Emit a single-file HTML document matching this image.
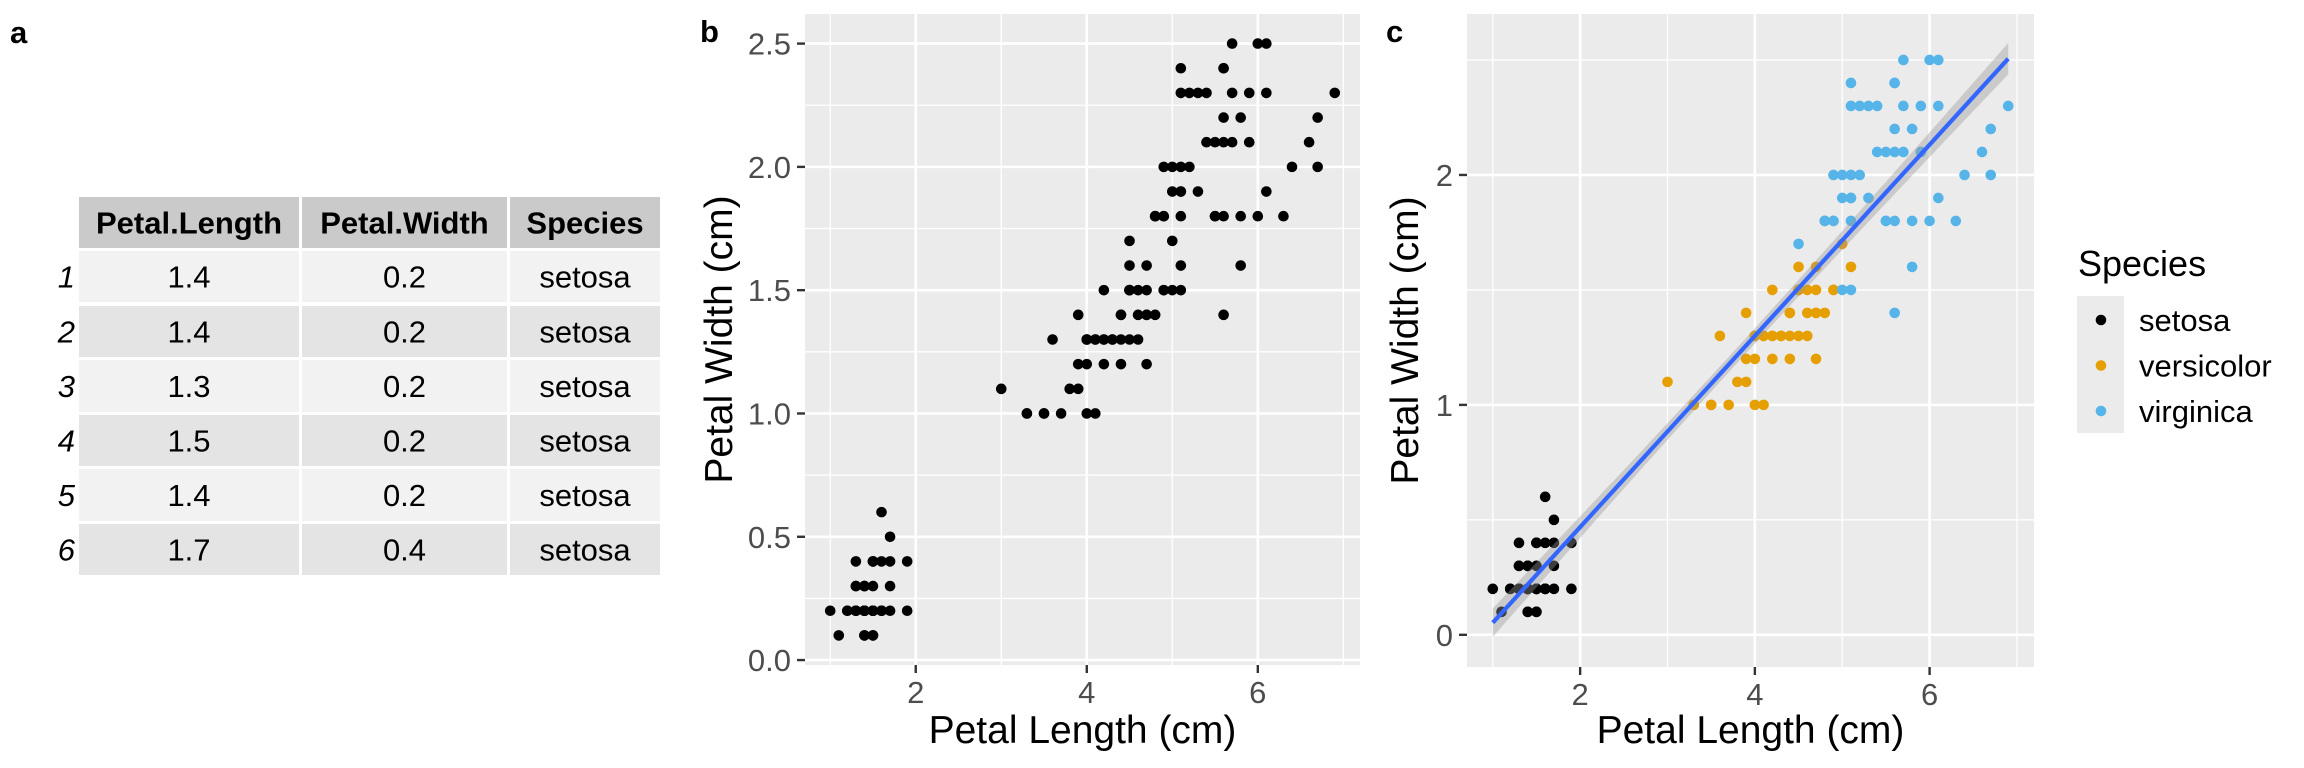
<!DOCTYPE html>
<html><head><meta charset="utf-8">
<style>
html,body{margin:0;padding:0;background:#fff;}
body{width:2304px;height:768px;overflow:hidden;position:relative;font-family:"Liberation Sans",sans-serif;}
svg{position:absolute;left:0;top:0;}
</style></head>
<body>
<svg id="fig" width="2304" height="768" xmlns="http://www.w3.org/2000/svg" font-family="Liberation Sans, sans-serif"></svg>
<script>
const tableHeaders = ["Petal.Length","Petal.Width","Species"];
const tableRowIds = ["1","2","3","4","5","6"];
const tableCol1 = ["1.4","1.4","1.3","1.5","1.4","1.7"];
const tableCol2 = ["0.2","0.2","0.2","0.2","0.2","0.4"];
const tableCol3 = ["setosa","setosa","setosa","setosa","setosa","setosa"];

const speciesNames = ["setosa","versicolor","virginica"];
const setosaLength = [1.4,1.4,1.3,1.5,1.4,1.7,1.4,1.5,1.4,1.5,1.5,1.6,1.4,1.1,1.2,1.5,1.3,1.4,1.7,1.5,1.7,1.5,1.0,1.7,1.9,1.6,1.6,1.5,1.4,1.6,1.6,1.5,1.5,1.4,1.5,1.2,1.3,1.4,1.3,1.5,1.3,1.3,1.3,1.6,1.9,1.4,1.6,1.4,1.5,1.4];
const setosaWidth = [0.2,0.2,0.2,0.2,0.2,0.4,0.3,0.2,0.2,0.1,0.2,0.2,0.1,0.1,0.2,0.4,0.4,0.3,0.3,0.3,0.2,0.4,0.2,0.5,0.2,0.2,0.4,0.2,0.2,0.2,0.2,0.4,0.1,0.2,0.2,0.2,0.2,0.1,0.2,0.2,0.3,0.3,0.2,0.6,0.4,0.3,0.2,0.2,0.2,0.2];
const versicolorLength = [4.7,4.5,4.9,4.0,4.6,4.5,4.7,3.3,4.6,3.9,3.5,4.2,4.0,4.7,3.6,4.4,4.5,4.1,4.5,3.9,4.8,4.0,4.9,4.7,4.3,4.4,4.8,5.0,4.5,3.5,3.8,3.7,3.9,5.1,4.5,4.5,4.7,4.4,4.1,4.0,4.4,4.6,4.0,3.3,4.2,4.2,4.2,4.3,3.0,4.1];
const versicolorWidth = [1.4,1.5,1.5,1.3,1.5,1.3,1.6,1.0,1.3,1.4,1.0,1.5,1.0,1.4,1.3,1.4,1.5,1.0,1.5,1.1,1.8,1.3,1.5,1.2,1.3,1.4,1.4,1.7,1.5,1.0,1.1,1.0,1.2,1.6,1.5,1.6,1.5,1.3,1.3,1.3,1.2,1.4,1.2,1.0,1.3,1.2,1.3,1.3,1.1,1.3];
const virginicaLength = [6.0,5.1,5.9,5.6,5.8,6.6,4.5,6.3,5.8,6.1,5.1,5.3,5.5,5.0,5.1,5.3,5.5,6.7,6.9,5.0,5.7,4.9,6.7,4.9,5.7,6.0,4.8,4.9,5.6,5.8,6.1,6.4,5.6,5.1,5.6,6.1,5.6,5.5,4.8,5.4,5.6,5.1,5.1,5.9,5.7,5.2,5.0,5.2,5.4,5.1];
const virginicaWidth = [2.5,1.9,2.1,1.8,2.2,2.1,1.7,1.8,1.8,2.5,2.0,1.9,2.1,2.0,2.4,2.3,1.8,2.2,2.3,1.5,2.3,2.0,2.0,1.8,2.1,1.8,1.8,1.8,2.1,1.6,1.9,2.0,2.2,1.5,1.4,2.3,2.4,1.8,1.8,2.1,2.4,2.3,1.9,2.3,2.5,2.3,1.9,2.0,2.3,1.8];
const xTicksB = [2,4,6];
const yTicksB = [0,0.5,1,1.5,2,2.5];
const yTickLabelsB = ["0.0","0.5","1.0","1.5","2.0","2.5"];
const xTicksC = [2,4,6];
const yTicksC = [0,1,2];
const yTickLabelsC = ["0","1","2"];

const NS="http://www.w3.org/2000/svg";
const svg=document.getElementById('fig');
function mk(tag,attrs,parent,text){const e=document.createElementNS(NS,tag);for(const k in attrs)e.setAttribute(k,attrs[k]);if(text!==undefined)e.textContent=text;(parent||svg).appendChild(e);return e;}

// panel labels
let t;
t=mk('text',{x:10,y:43,'font-size':31,'font-weight':'bold'},svg,'a');


t=mk('text',{x:700,y:42,'font-size':31,'font-weight':'bold'},svg,'b');


t=mk('text',{x:1386,y:42,'font-size':31,'font-weight':'bold'},svg,'c');



// table
const colX=[79,302,510], colW=[220,205,150];
const rowY=[197,251,306,360,415,469,524], rowH=[51,51,51,52,51,52,51];
const tg=mk('g',{});


const cols=[tableCol1,tableCol2,tableCol3];
for(let r=0;r<7;r++){
  const fill = r===0?'#cacaca':(r%2===1?'#f2f2f2':'#e4e4e4');
  for(let c=0;c<3;c++){
    const rc=mk('rect',{x:colX[c],y:rowY[r],width:colW[c],height:rowH[r],fill:fill},tg);
    
    
    const txt = r===0?tableHeaders[c]:cols[c][r-1];
    const tx=mk('text',{x:colX[c]+colW[c]/2,y:rowY[r]+rowH[r]/2+11,'text-anchor':'middle','font-size':31,'font-weight':r===0?'bold':'normal',fill:'#000'},tg,txt);
    
    
  }
  if(r>0){
    const rn=mk('text',{x:75,y:rowY[r]+rowH[r]/2+11,'text-anchor':'end','font-size':31,'font-style':'italic'},tg,tableRowIds[r-1]);
    
    
  }
}

function panel(cfg){
  const g=mk('g',{});
  
  
  const sx=v=>cfg.x0+(v-cfg.xmin)/(cfg.xmax-cfg.xmin)*(cfg.x1-cfg.x0);
  const sy=v=>cfg.y1-(v-cfg.ymin)/(cfg.ymax-cfg.ymin)*(cfg.y1-cfg.y0);
  const bg=mk('rect',{x:cfg.x0,y:cfg.y0,width:cfg.x1-cfg.x0,height:cfg.y1-cfg.y0,fill:'#ebebeb'},g);
  
  
  // minor grid
  cfg.xMinor.forEach(v=>{const l=mk('line',{x1:sx(v),x2:sx(v),y1:cfg.y0,y2:cfg.y1,stroke:'#fff','stroke-width':1.3},g);});
  cfg.yMinor.forEach(v=>{const l=mk('line',{y1:sy(v),y2:sy(v),x1:cfg.x0,x2:cfg.x1,stroke:'#fff','stroke-width':1.3},g);});
  cfg.xTicks.forEach(v=>{
    const l=mk('line',{x1:sx(v),x2:sx(v),y1:cfg.y0,y2:cfg.y1,stroke:'#fff','stroke-width':2.6},g);
    
    
    const tk=mk('line',{x1:sx(v),x2:sx(v),y1:cfg.y1,y2:cfg.y1+8,stroke:'#333','stroke-width':2.4},g);
    
    
    const tl=mk('text',{x:sx(v),y:cfg.y1+38,'text-anchor':'middle','font-size':31,fill:'#4d4d4d'},g,String(v));
    
    
  });
  cfg.yTicks.forEach((v,i)=>{
    const l=mk('line',{y1:sy(v),y2:sy(v),x1:cfg.x0,x2:cfg.x1,stroke:'#fff','stroke-width':2.6},g);
    
    
    const tk=mk('line',{y1:sy(v),y2:sy(v),x1:cfg.x0-8,x2:cfg.x0,stroke:'#333','stroke-width':2.4},g);
    
    
    const tl=mk('text',{x:cfg.x0-14,y:sy(v)+11,'text-anchor':'end','font-size':31,fill:'#4d4d4d'},g,cfg.yLabels[i]);
    
    
  });
  const xt=mk('text',{x:(cfg.x0+cfg.x1)/2,y:743,'text-anchor':'middle','font-size':39},g,'Petal Length (cm)');
  
  
  const cy=(cfg.y0+cfg.y1)/2;
  const yt=mk('text',{x:cfg.ytx,y:cy,'text-anchor':'middle','font-size':39,transform:`rotate(-90 ${cfg.ytx} ${cy})`},g,'Petal Width (cm)');
  
  
  return {g,sx,sy};
}

const allL=setosaLength.concat(versicolorLength,virginicaLength);
const allW=setosaWidth.concat(versicolorWidth,virginicaWidth);

// panel b
const pb=panel({name:'panel-b-scatter',x0:805,x1:1360,y0:14,y1:665,xmin:0.705,xmax:7.195,ymin:-0.02,ymax:2.62,
  xTicks:xTicksB,xMinor:[1,3,5,7],yTicks:yTicksB,yMinor:[0.25,0.75,1.25,1.75,2.25],yLabels:yTickLabelsB,ytx:732});
allL.forEach((v,i)=>{
  const c=mk('circle',{cx:pb.sx(v),cy:pb.sy(allW[i]),r:5.3,fill:'#000'},pb.g);
  
  
});

// panel c
const pc=panel({name:'panel-c-scatter',x0:1467,x1:2034,y0:14,y1:667,xmin:0.705,xmax:7.195,ymin:-0.14,ymax:2.70,
  xTicks:xTicksC,xMinor:[1,3,5,7],yTicks:yTicksC,yMinor:[0.5,1.5,2.5],yLabels:yTickLabelsC,ytx:1418});
const colors=['#000000','#E69F00','#56B4E9'];
[[setosaLength,setosaWidth],[versicolorLength,versicolorWidth],[virginicaLength,virginicaWidth]].forEach((s,k)=>{
  s[0].forEach((v,i)=>{
    const c=mk('circle',{cx:pc.sx(v),cy:pc.sy(s[1][i]),r:5.3,fill:colors[k]},pc.g);
    
    
  });
});
// regression
const n=allL.length;
const mx=allL.reduce((a,b)=>a+b,0)/n, my=allW.reduce((a,b)=>a+b,0)/n;
let sxx=0,sxy=0;for(let i=0;i<n;i++){sxx+=(allL[i]-mx)**2;sxy+=(allL[i]-mx)*(allW[i]-my);}
const b1=sxy/sxx,b0=my-b1*mx;
let sse=0;for(let i=0;i<n;i++){sse+=(allW[i]-b0-b1*allL[i])**2;}
const s=Math.sqrt(sse/(n-2)),tq=1.976;
const xmin=Math.min(...allL),xmax=Math.max(...allL);
let up=[],lo=[];
for(let j=0;j<=80;j++){const x=xmin+(xmax-xmin)*j/80;const f=b0+b1*x;const se=s*Math.sqrt(1/n+(x-mx)**2/sxx);
  up.push(pc.sx(x)+','+pc.sy(f+tq*se));lo.unshift(pc.sx(x)+','+pc.sy(f-tq*se));}
const rib=mk('polygon',{points:up.concat(lo).join(' '),fill:'#999999','fill-opacity':0.4},pc.g);


const ln=mk('line',{x1:pc.sx(xmin),y1:pc.sy(b0+b1*xmin),x2:pc.sx(xmax),y2:pc.sy(b0+b1*xmax),stroke:'#3366FF','stroke-width':4.2},pc.g);



// legend
const lg=mk('g',{});


const lt=mk('text',{x:2078,y:276,'font-size':36},lg,'Species');


const lb=mk('rect',{x:2077,y:296,width:47,height:137,fill:'#ebebeb'},lg);


speciesNames.forEach((nm,k)=>{
  const y=320+k*45.5;
  const c=mk('circle',{cx:2101,cy:y,r:5.3,fill:colors[k]},lg);
  
  
  const tx=mk('text',{x:2139,y:y+11,'font-size':31},lg,nm);
  
  
});
</script>
</body></html>
